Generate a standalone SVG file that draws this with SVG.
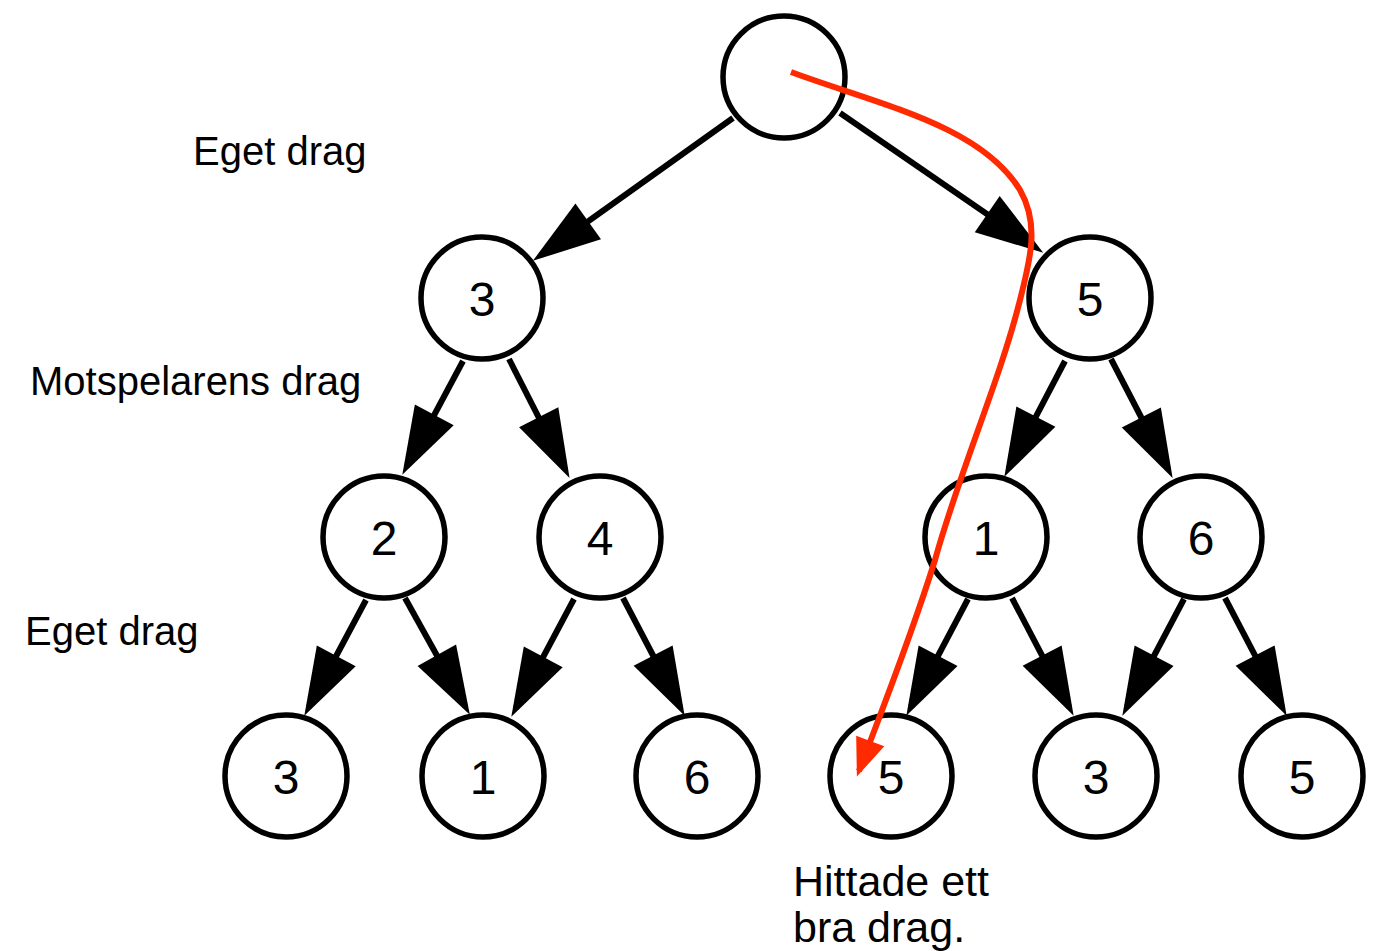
<svg xmlns="http://www.w3.org/2000/svg" width="1376" height="951" viewBox="0 0 1376 951">
<style>
.n circle{fill:#fff;stroke:#000;stroke-width:5.5}
.n text{font-family:"Liberation Sans",Arial,sans-serif;font-size:48px;text-anchor:middle;fill:#000}
.lbl{font-family:"Liberation Sans",Arial,sans-serif;font-size:40px;fill:#000}
.e{stroke:#000;stroke-width:6;fill:none;marker-end:url(#ah)}
</style>
<defs>
<marker id="ah" markerUnits="userSpaceOnUse" markerWidth="80" markerHeight="50" refX="58" refY="22" orient="auto" overflow="visible">
<path d="M0,0 L68,22 L0,44 z" fill="#000"/>
</marker>
<marker id="rh" markerUnits="userSpaceOnUse" markerWidth="50" markerHeight="40" refX="32" refY="15" orient="auto" overflow="visible">
<path d="M0,0 L38,15 L0,30 z" fill="#ff2a00"/>
</marker>
</defs>
<rect width="1376" height="951" fill="#fff"/>
<g id="connectors">
<line class="e" x1="733" y1="118" x2="541" y2="255"/>
<line class="e" x1="840" y1="113" x2="1035" y2="247"/>
<line class="e" x1="463" y1="361" x2="407" y2="466"/>
<line class="e" x1="509" y1="359" x2="565" y2="469"/>
<line class="e" x1="1065" y1="361" x2="1009" y2="468"/>
<line class="e" x1="1111" y1="359" x2="1168" y2="469"/>
<line class="e" x1="366" y1="600" x2="309" y2="707"/>
<line class="e" x1="405" y1="598" x2="465" y2="706"/>
<line class="e" x1="574" y1="599" x2="516" y2="708"/>
<line class="e" x1="623" y1="598" x2="680" y2="707"/>
<line class="e" x1="968" y1="599" x2="911" y2="707"/>
<line class="e" x1="1012" y1="598" x2="1069" y2="707"/>
<line class="e" x1="1184" y1="599" x2="1127" y2="707"/>
<line class="e" x1="1225" y1="598" x2="1282" y2="707"/>
</g>
<g id="n0" class="n"><circle cx="784" cy="77" r="61"/></g>
<g id="n1" class="n"><circle cx="482" cy="298" r="61"/><text x="482" y="316">3</text></g>
<g id="n2" class="n"><circle cx="1090" cy="298" r="61"/><text x="1090" y="316">5</text></g>
<g id="n3" class="n"><circle cx="384" cy="537" r="61"/><text x="384" y="555">2</text></g>
<g id="n4" class="n"><circle cx="600" cy="537" r="61"/><text x="600" y="555">4</text></g>
<g id="n5" class="n"><circle cx="986" cy="537" r="61"/><text x="986" y="555">1</text></g>
<g id="n6" class="n"><circle cx="1201" cy="537" r="61"/><text x="1201" y="555">6</text></g>
<g id="n7" class="n"><circle cx="286" cy="776" r="61"/><text x="286" y="794">3</text></g>
<g id="n8" class="n"><circle cx="483" cy="776" r="61"/><text x="483" y="794">1</text></g>
<g id="n9" class="n"><circle cx="697" cy="776" r="61"/><text x="697" y="794">6</text></g>
<g id="n10" class="n"><circle cx="891" cy="776" r="61"/><text x="891" y="794">5</text></g>
<g id="n11" class="n"><circle cx="1096" cy="776" r="61"/><text x="1096" y="794">3</text></g>
<g id="n12" class="n"><circle cx="1302" cy="776" r="61"/><text x="1302" y="794">5</text></g>
<g id="labels">
<text class="lbl" x="193" y="165">Eget drag</text>
<text class="lbl" x="30" y="395">Motspelarens drag</text>
<text class="lbl" x="25" y="645">Eget drag</text>
<text class="lbl" x="793" y="896" style="font-size:43px">Hittade ett</text>
<text class="lbl" x="793" y="942" style="font-size:43px">bra drag.</text>
</g>
<g id="red-path">
<path d="M791,72 C880,105 980,125 1020,190 C1040,225 1030,260 1020,300 C1000,380 960,470 935,560 C910,640 880,715 859,771" fill="none" stroke="#ff2a00" stroke-width="6" marker-end="url(#rh)"/>
</g>
</svg>
